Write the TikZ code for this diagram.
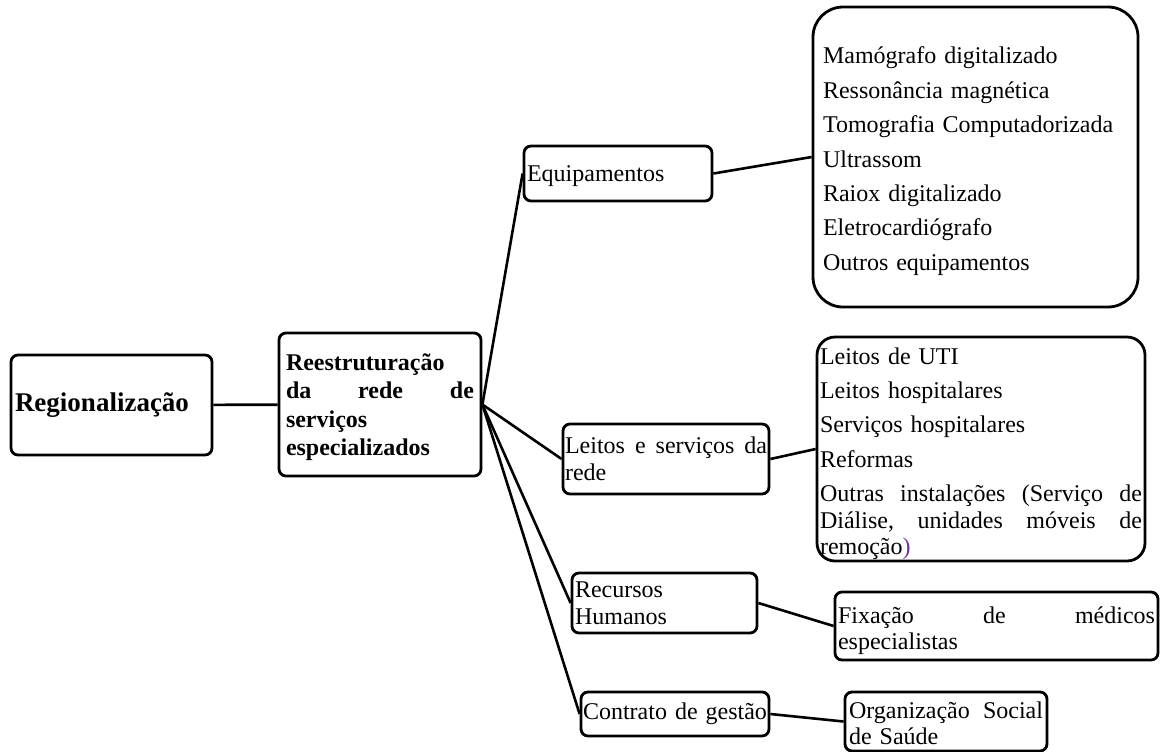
\documentclass[tikz,border=0pt]{standalone}
\usepackage{fontspec}
\setmainfont{Liberation Serif}
\definecolor{roxo}{RGB}{112,48,160}
\hyphenpenalty=10000

\begin{document}
\begin{tikzpicture}[x=0.5pt, y=-0.5pt,
	caixa/.style={draw, line width=1.4pt, rounded corners=3.5pt, inner sep=0pt, align=left, font=\fontsize{12}{13.4}\selectfont},
	desce/.style={execute at begin node={\rule{0pt}{#1}}},
	ligacao/.style={line width=1.3pt}]

	\useasboundingbox (0, 0) rectangle (1161, 751);

	\node[caixa, minimum width=100.5pt, minimum height=50pt, text width=96.5pt, font=\fontsize{13.5}{15.5}\selectfont\bfseries] (regio) at (111.5, 405) {Regionalização};
	\node[caixa, desce=11.1pt, minimum width=101pt, minimum height=71.5pt, text width=94pt, font=\fontsize{12}{14.2}\selectfont\bfseries] (reest) at (380, 404.5) {Reestruturação\\ da\hfill rede\hfill de\\ serviços\\ especializados};

	\node[caixa, desce=10.2pt, minimum width=94pt, minimum height=27.5pt, text width=91pt] (equip) at (618, 173.5) {Equipamentos};
	\node[caixa, minimum width=103pt, minimum height=35pt, text width=101pt] (leitos) at (666, 459) {Leitos\hfill e\hfill serviços\hfill da\\ rede};
	\node[caixa, minimum width=92.5pt, minimum height=30pt, text width=89.5pt] (recursos) at (664.5, 603) {Recursos\\ Humanos};
	\node[caixa, minimum width=94pt, minimum height=22pt, text width=92pt] (contrato) at (675, 714) {Contrato de gestão};

	\node[caixa, desce=12.7pt, rounded corners=15pt, minimum width=162.5pt, minimum height=150pt, text width=152.5pt] (equiplista) at (975.5, 157) {Mamógrafo digitalizado\\[3.8pt] Ressonância magnética\\[3.8pt] Tomografia Computadorizada\\[3.8pt] Ultrassom\\[3.8pt] Raiox digitalizado\\[3.8pt] Eletrocardiógrafo\\[3.8pt] Outros equipamentos};
	\node[caixa, desce=13.2pt, rounded corners=9pt, minimum width=164pt, minimum height=112pt, text width=161pt] (leitoslista) at (981, 449) {Leitos de UTI\\[3.7pt] Leitos hospitalares\\[3.7pt] Serviços hospitalares\\[3.7pt] Reformas\\[3.7pt] Outras\hfill instalações\hfill (Serviço\hfill de\\ Diálise,\hfill unidades\hfill móveis\hfill de\\ remoção\textcolor{roxo}{)}};
	\node[caixa, desce=13pt, minimum width=161.5pt, minimum height=34pt, text width=158.5pt] (fixacao) at (996.5, 626) {Fixação\hfill de\hfill médicos\\ especialistas};
	\node[caixa, desce=10.2pt, minimum width=101pt, minimum height=29.5pt, text width=97pt] (org) at (946, 721.5) {Organização\hfill Social\\ de Saúde};

	\draw[ligacao] (regio) -- (reest);
	\foreach \ramo in {equip, leitos, recursos, contrato}
		\draw[ligacao] (reest.east) -- (\ramo.west);
	\foreach \de/\para in {equip/equiplista, leitos/leitoslista, recursos/fixacao, contrato/org}
		\draw[ligacao] (\de.east) -- (\para.west);

\end{tikzpicture}
\end{document}
